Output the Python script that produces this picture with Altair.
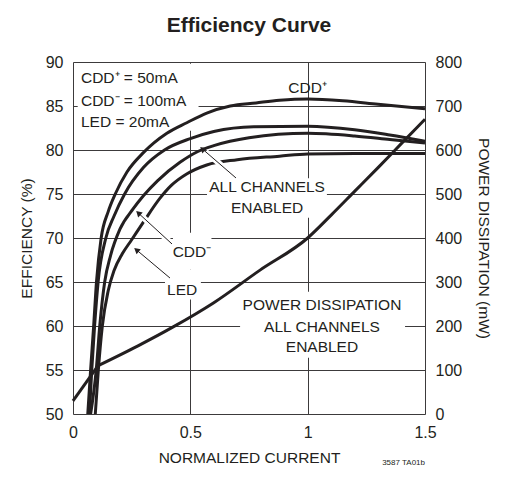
import math
import altair as alt
import pandas as pd

# ------------------------------------------------------------------ data
# efficiency curves (normalized current -> efficiency %)
cdd_plus_x = [0.063, 0.075, 0.088, 0.100, 0.120, 0.150, 0.180, 0.230, 0.300, 0.400,
              0.485, 0.570, 0.670, 0.780, 0.880, 1.000, 1.150, 1.300, 1.500]
cdd_plus_y = [50, 55, 60, 65, 70, 73, 75, 77.5, 79.7, 81.9,
              83.1, 84.2, 85.0, 85.35, 85.65, 85.8, 85.6, 85.2, 84.7]

all_ch_x = [0.070, 0.080, 0.092, 0.107, 0.140, 0.175, 0.220, 0.300, 0.390, 0.500,
            0.600, 0.770, 1.000, 1.200, 1.350, 1.500]
all_ch_y = [50, 55, 60, 65, 70, 72.5, 75, 78, 80, 81.3,
            82.1, 82.65, 82.7, 82.3, 81.7, 81.0]

cdd_minus_x = [0.075, 0.099, 0.114, 0.135, 0.160, 0.200, 0.256, 0.300, 0.360, 0.456,
               0.530, 0.600, 0.750, 1.000, 1.200, 1.350, 1.500]
cdd_minus_y = [50, 55, 60, 65, 68, 71, 73.3, 74.8, 76.5, 78.6,
               79.8, 80.5, 81.4, 81.9, 81.6, 81.2, 80.8]

led_x = [0.095, 0.108, 0.125, 0.150, 0.175, 0.210, 0.250, 0.300, 0.370, 0.420,
         0.486, 0.570, 0.700, 0.880, 1.000, 1.200, 1.500]
led_y = [50, 55, 60, 64, 66.3, 68.2, 69.8, 71.8, 74.5, 76.0,
         77.3, 78.3, 78.9, 79.3, 79.55, 79.6, 79.6]

# power dissipation, all channels enabled (mW)
power_x = [0.000, 0.107, 0.277, 0.427, 0.600, 0.797, 1.000, 1.100, 1.200, 1.300, 1.400, 1.500]
power_mw = [30, 110, 155, 198, 253, 327, 400, 452, 506, 560, 615, 670]

# tick values
x_ticks = [0, 0.5, 1, 1.5]
eff_ticks = [50, 55, 60, 65, 70, 75, 80, 85, 90]
power_ticks = [0, 100, 200, 300, 400, 500, 600, 700, 800]

# texts
chart_title = "Efficiency Curve"
legend_lines = ["CDD\u207a = 50mA", "CDD\u207b = 100mA", "LED = 20mA"]
label_texts = ["CDD\u207a", "ALL CHANNELS", "ENABLED", "CDD\u207b", "LED",
               "POWER DISSIPATION", "ALL CHANNELS", "ENABLED"]
footnote = "3587 TA01b"

# ------------------------------------------------------------------ layout (annotation positions, data units)
W, H = 352, 352
PX_X = W / 1.5
PX_Y = H / 40.0

title_pos = (0.75, 90 + (62 - 32) / PX_Y)
legend_pos_x = [0.034, 0.034, 0.034]
legend_pos_y = [88.2, 85.6, 83.2]
label_pos_x = [1.0, 0.827, 0.827, 0.507, 0.465, 1.061, 1.061, 1.061]
label_pos_y = [87.1, 75.8, 73.4, 68.4, 64.1, 62.4, 59.9, 57.6]

box_x1 = [0.02, 0.571, 0.426, 0.392, 0.712]
box_x2 = [0.535, 1.082, 0.590, 0.545, 1.415]
box_y1 = [82.2, 72.3, 66.4, 63.0, 56.4]
box_y2 = [89.8, 76.8, 70.6, 66.4, 63.9]

arr_sx = [0.6946, 0.4219, 0.4133]
arr_sy = [76.82, 69.32, 65.45]
arr_tx = [0.5369, 0.2642, 0.2557]
arr_ty = [80.45, 73.18, 68.98]

INK = "#231f20"
GRID = "#3c3a3b"
FONT = "Liberation Sans"

# ------------------------------------------------------------------ tables
def series(name, xs, ys):
    return pd.DataFrame({"current": xs, "eff": ys, "series": name,
                         "idx": list(range(len(xs)))})

eff_df = pd.concat([
    series("CDD+", cdd_plus_x, cdd_plus_y),
    series("ALL", all_ch_x, all_ch_y),
    series("CDD-", cdd_minus_x, cdd_minus_y),
    series("LED", led_x, led_y),
], ignore_index=True)

# power line: a straight first segment up to the knee, a smooth curve after it
knee = 1
power_df = pd.concat([
    pd.DataFrame({"current": power_x[:knee + 1], "power": power_mw[:knee + 1], "seg": 0}),
    pd.DataFrame({"current": power_x[knee:], "power": power_mw[knee:], "seg": 1}),
], ignore_index=True)

boxes_df = pd.DataFrame({"x1": box_x1, "x2": box_x2, "y1": box_y1, "y2": box_y2})

rows = []
for sx, sy, tx, ty in zip(arr_sx, arr_sy, arr_tx, arr_ty):
    dxp = (tx - sx) * PX_X
    dyp = -(ty - sy) * PX_Y
    L = math.hypot(dxp, dyp)
    back = 4.5
    hx = tx - dxp / L * back / PX_X
    hy = ty + dyp / L * back / PX_Y
    halo_t = 0.82
    rows.append({
        "sx": sx, "sy": sy, "hx": hx, "hy": hy,
        "halo_x": sx + (tx - sx) * halo_t, "halo_y": sy + (ty - sy) * halo_t,
        "angle": math.degrees(math.atan2(dxp, -dyp)) % 360,
    })
arrows_df = pd.DataFrame(rows)

title_df = pd.DataFrame({"x": [title_pos[0]], "y": [title_pos[1]], "t": [chart_title]})
legend_df = pd.DataFrame({"x": legend_pos_x, "y": legend_pos_y, "t": legend_lines})
labels_df = pd.DataFrame({"x": label_pos_x, "y": label_pos_y, "t": label_texts})
foot_df = pd.DataFrame({"x": [1.5], "y": [90 - (459 - 62) / PX_Y], "t": [footnote]})

# ------------------------------------------------------------------ scales / axes
X_SCALE = alt.Scale(domain=[0, 1.5], nice=False, zero=False)
EFF_SCALE = alt.Scale(domain=[50, 90], nice=False, zero=False)
PWR_SCALE = alt.Scale(domain=[0, 800], nice=False, zero=False)

X_AXIS = alt.Axis(
    values=x_ticks, format="~g", title="NORMALIZED CURRENT",
    grid=True, gridColor=GRID, gridWidth=1, domain=False, ticks=False,
    labelFlush=False, labelPadding=10, labelFont=FONT, labelFontSize=16, labelColor=INK,
    titleFont=FONT, titleFontSize=15.5, titleFontWeight="normal", titleColor=INK,
    titleX=W / 2, titleY=43, titleAlign="center", titleBaseline="middle",
)
EFF_AXIS = alt.Axis(
    orient="left", values=eff_ticks, title="EFFICIENCY (%)",
    grid=True, gridColor=GRID, gridWidth=1, domain=False, ticks=False,
    labelPadding=10, labelFont=FONT, labelFontSize=16, labelColor=INK,
    titleFont=FONT, titleFontSize=15.5, titleFontWeight="normal", titleColor=INK,
    titleAngle=270, titleX=-47, titleY=H / 2, titleAlign="center", titleBaseline="middle",
)
PWR_AXIS = alt.Axis(
    orient="right", values=power_ticks, title="POWER DISSIPATION (mW)",
    grid=False, domain=False, ticks=False,
    labelPadding=10, labelFont=FONT, labelFontSize=16, labelColor=INK,
    titleFont=FONT, titleFontSize=15.5, titleFontWeight="normal", titleColor=INK,
    titleAngle=90, titleX=58, titleY=H / 2, titleAlign="center", titleBaseline="middle",
)

def xe(field):
    return alt.X(field, type="quantitative", scale=X_SCALE, axis=X_AXIS)

def ye(field, scale=EFF_SCALE, axis=None):
    return alt.Y(field, type="quantitative", scale=scale, axis=axis)

# ------------------------------------------------------------------ layers
boxes = alt.Chart(boxes_df).mark_rect(color="white").encode(
    x=xe("x1"), x2="x2", y=ye("y1"), y2="y2")

curves = alt.Chart(eff_df).mark_line(color=INK, strokeWidth=3, interpolate="monotone").encode(
    x=xe("current"), y=ye("eff", axis=EFF_AXIS), detail="series:N", order="idx:Q")

power = alt.Chart(power_df).mark_line(color=INK, strokeWidth=3, interpolate="monotone").encode(
    x=xe("current"), y=ye("power", scale=PWR_SCALE, axis=PWR_AXIS), detail="seg:N")

halos = alt.Chart(arrows_df).mark_rule(color="white", strokeWidth=6).encode(
    x=xe("sx"), x2="halo_x", y=ye("sy"), y2="halo_y")

shafts = alt.Chart(arrows_df).mark_rule(color=INK, strokeWidth=1).encode(
    x=xe("sx"), x2="hx", y=ye("sy"), y2="hy")

heads = alt.Chart(arrows_df).mark_point(shape="triangle-up", filled=True, color=INK,
                                        size=45, opacity=1).encode(
    x=xe("hx"), y=ye("hy"), angle=alt.Angle("angle:Q", scale=None))

title_text = alt.Chart(title_df).mark_text(align="center", baseline="alphabetic",
                                           font=FONT, fontSize=21, fontWeight="bold",
                                           color=INK).encode(
    x=xe("x"), y=ye("y"), text="t:N")

legend_text = alt.Chart(legend_df).mark_text(align="left", baseline="middle", font=FONT,
                                             fontSize=15.5, color=INK).encode(
    x=xe("x"), y=ye("y"), text="t:N")

label_text = alt.Chart(labels_df).mark_text(align="center", baseline="middle", font=FONT,
                                            fontSize=15.5, color=INK).encode(
    x=xe("x"), y=ye("y"), text="t:N")

foot_text = alt.Chart(foot_df).mark_text(align="right", baseline="top", font=FONT,
                                         fontSize=8, color=INK).encode(
    x=xe("x"), y=ye("y"), text="t:N")

chart = alt.layer(
    boxes, curves, power, halos, shafts, heads, title_text, legend_text, label_text, foot_text
).resolve_scale(y="independent").properties(
    width=W, height=H,
    autosize=alt.AutoSizeParams(type="none"),
    padding={"left": 65, "top": 54, "right": 70, "bottom": 55},
).configure_view(stroke=INK, strokeWidth=2).configure(background="white")

chart.save("out.html", embed_options={"renderer": "svg", "actions": False})
